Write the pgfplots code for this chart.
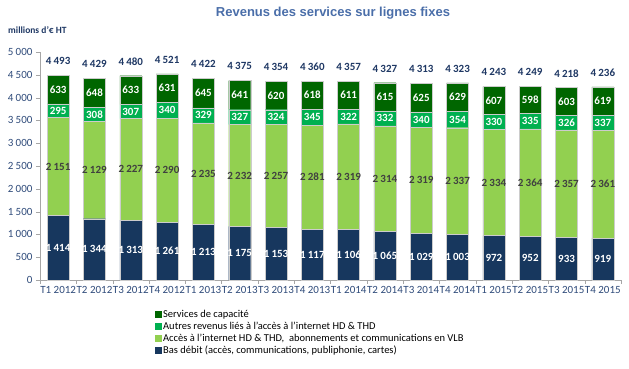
\documentclass[border=0pt]{standalone}
\usepackage{pgfplots}
\pgfplotsset{compat=1.18}
\usepackage{pgfplotstable}
\usepackage{fontspec}
\setmainfont{Carlito}
\newfontfamily\titlefont{Liberation Sans}
\definecolor{cBas}{HTML}{17375E}
\definecolor{cAcc}{HTML}{92D050}
\definecolor{cAut}{HTML}{00B050}
\definecolor{cCap}{HTML}{006600}
\definecolor{cTitle}{HTML}{4A6EA9}
\definecolor{cText}{HTML}{1F3864}
\definecolor{cTick}{HTML}{2F4B7A}
\definecolor{cAxis}{HTML}{A6A6A6}

\pgfplotstableread{
x bas acc aut cap tot
0 1414 2151 295 633 4493
1 1344 2129 308 648 4429
2 1313 2227 307 633 4480
3 1261 2290 340 631 4521
4 1213 2235 329 645 4422
5 1175 2232 327 641 4375
6 1153 2257 324 620 4354
7 1117 2281 345 618 4360
8 1106 2319 322 611 4357
9 1065 2314 332 615 4327
10 1029 2319 340 625 4313
11 1003 2337 354 629 4323
12 972 2334 330 607 4243
13 952 2364 335 598 4249
14 933 2357 326 603 4218
15 919 2361 337 619 4236
}\data

\pgfplotsset{
  common/.style={
    at={(40pt,88pt)}, anchor=south west, scale only axis,
    width=581pt, height=228pt,
    xmin=-0.5, xmax=15.5, ymin=0, ymax=5000,
    /pgf/number format/1000 sep={\hspace{0.2em}},
    /pgf/number format/assume math mode=true,
  }
}

\begin{document}
\begin{tikzpicture}
\path[use as bounding box] (0pt,0pt) rectangle (629pt,368pt);
\node[font=\titlefont\bfseries\fontsize{13}{15}\selectfont, text=cTitle] at (333pt,355pt) {Revenus des services sur lignes fixes};
\node[anchor=west, font=\bfseries\fontsize{9.5}{11}\selectfont, text=cText, inner sep=0pt] at (8pt,338pt) {millions d'€ HT};

\begin{axis}[common,
  ybar stacked, bar width=22pt,
  axis lines*=left,
  axis line style={draw=cAxis},
  xtick={0,...,15},
  xticklabels={T1 2012,T2 2012,T3 2012,T4 2012,T1 2013,T2 2013,T3 2013,T4 2013,T1 2014,T2 2014,T3 2014,T4 2014,T1 2015,T2 2015,T3 2015,T4 2015},
  minor xtick={-0.5,0.5,...,15.5},
  ytick={0,500,...,5000},
  tick align=outside,
  major x tick style={draw=none},
  minor x tick style={draw=cAxis},
  y tick style={draw=cAxis},
  major tick length=4pt, minor tick length=4pt,
  tick label style={font=\fontsize{11}{12}\selectfont, text=cTick},
  xticklabel style={yshift=1pt},
  reverse legend,
  legend cell align=left,
  legend style={at={(0.197,-0.125)}, anchor=north west, draw=none, fill=none,
    font=\fontsize{10.5}{11}\selectfont, row sep=0pt, inner sep=0pt,
    nodes={inner sep=1.5pt}},
  legend image code/.code={\path[#1, draw=none] (0pt,-3.5pt) rectangle (7pt,3.5pt);},
]
\addplot[fill=cBas, draw=gray!40, line width=0.4pt] table[x=x,y=bas]{\data};
\addplot[fill=cAcc, draw=gray!40, line width=0.4pt] table[x=x,y=acc]{\data};
\addplot[fill=cAut, draw=gray!40, line width=0.4pt] table[x=x,y=aut]{\data};
\addplot[fill=cCap, draw=gray!40, line width=0.4pt] table[x=x,y=cap]{\data};
\legend{{Bas débit (accès, communications, publiphonie, cartes)},
  {Accès à l'internet HD \& THD,~ abonnements et communications en VLB},
  {Autres revenus liés à l'accès à l'internet HD \& THD},
  {Services de capacité}}
\end{axis}

\begin{axis}[common, hide axis, clip=false,
  nodes near coords, point meta=explicit,
  every node near coord/.append style={anchor=center, font=\bfseries\fontsize{11}{12}\selectfont},
]
\addplot[draw=none, mark=none, nodes near coords style={text=white}] table[x=x, y expr=\thisrow{bas}/2, meta=bas]{\data};
\addplot[draw=none, mark=none, nodes near coords style={text=black!75}] table[x=x, y expr=\thisrow{bas}+\thisrow{acc}/2, meta=acc]{\data};
\addplot[draw=none, mark=none, nodes near coords style={text=white}] table[x=x, y expr=\thisrow{bas}+\thisrow{acc}+\thisrow{aut}/2, meta=aut]{\data};
\addplot[draw=none, mark=none, nodes near coords style={text=white}] table[x=x, y expr=\thisrow{bas}+\thisrow{acc}+\thisrow{aut}+\thisrow{cap}/2, meta=cap]{\data};
\addplot[draw=none, mark=none, nodes near coords style={text=cText, anchor=south, yshift=7pt}] table[x=x, y=tot, meta=tot]{\data};
\end{axis}
\end{tikzpicture}
\end{document}
